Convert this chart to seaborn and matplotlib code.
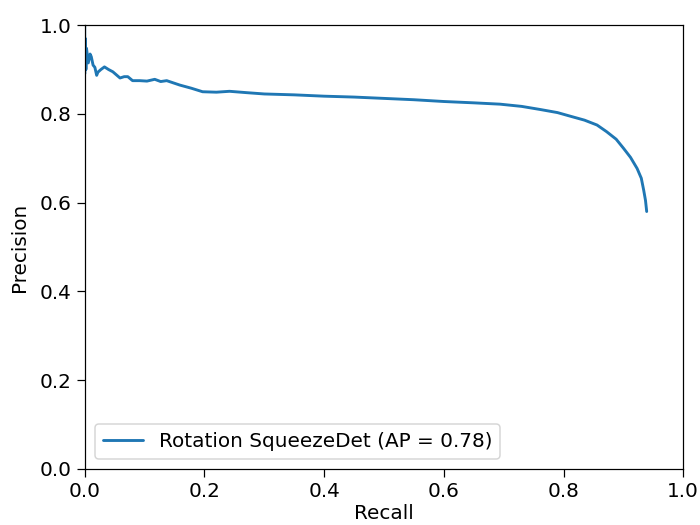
import matplotlib
matplotlib.use("Agg")
import matplotlib.pyplot as plt
import seaborn as sns

recall = [0.0, 0.0, 0.001, 0.002, 0.003, 0.006, 0.009, 0.011, 0.014, 0.017, 0.020, 0.022,
          0.027, 0.033, 0.040, 0.047, 0.053, 0.059, 0.066, 0.072, 0.080, 0.092, 0.104,
          0.117, 0.127, 0.137, 0.148, 0.159, 0.178, 0.197, 0.220, 0.242, 0.270, 0.300,
          0.350, 0.400, 0.450, 0.500, 0.550, 0.600, 0.650, 0.694, 0.730, 0.761, 0.790,
          0.811, 0.835, 0.856, 0.872, 0.888, 0.900, 0.912, 0.923, 0.930, 0.934, 0.937, 0.939]
precision = [1.0, 0.89, 0.97, 0.90, 0.948, 0.915, 0.935, 0.929, 0.91, 0.905, 0.887, 0.894,
             0.900, 0.906, 0.900, 0.895, 0.888, 0.881, 0.884, 0.884, 0.875, 0.875, 0.874,
             0.878, 0.873, 0.875, 0.870, 0.865, 0.858, 0.850, 0.849, 0.851, 0.848, 0.845,
             0.843, 0.840, 0.838, 0.835, 0.832, 0.828, 0.825, 0.822, 0.817, 0.810, 0.803,
             0.795, 0.786, 0.775, 0.760, 0.743, 0.723, 0.702, 0.677, 0.655, 0.628, 0.605, 0.580]

sns.set_style("ticks", {'text.color': 'black', 'axes.labelcolor': 'black',
                        'xtick.color': 'black', 'ytick.color': 'black',
                        'axes.edgecolor': 'black'})
plt.rcParams['font.family'] = ['DejaVu Sans']
plt.rcParams['font.size'] = 13.2

fig, ax = plt.subplots(figsize=(6.4, 4.8), dpi=109.375)
fig.subplots_adjust(left=0.121, right=0.976, top=0.952, bottom=0.107)

sns.lineplot(x=recall, y=precision, sort=False, estimator=None, color='#1f77b4',
             linewidth=1.9, label='Rotation SqueezeDet (AP = 0.78)', ax=ax)

ax.set_xlim(0, 1)
ax.set_ylim(0, 1)
ax.set_xlabel('Recall', fontsize=13.2, labelpad=2)
ax.set_ylabel('Precision', fontsize=13.2, labelpad=7)
ax.tick_params(direction='out', labelsize=13.2, length=5)
ax.legend(loc='lower left', fontsize=13.2)

fig.savefig('out.png', dpi=109.375)
